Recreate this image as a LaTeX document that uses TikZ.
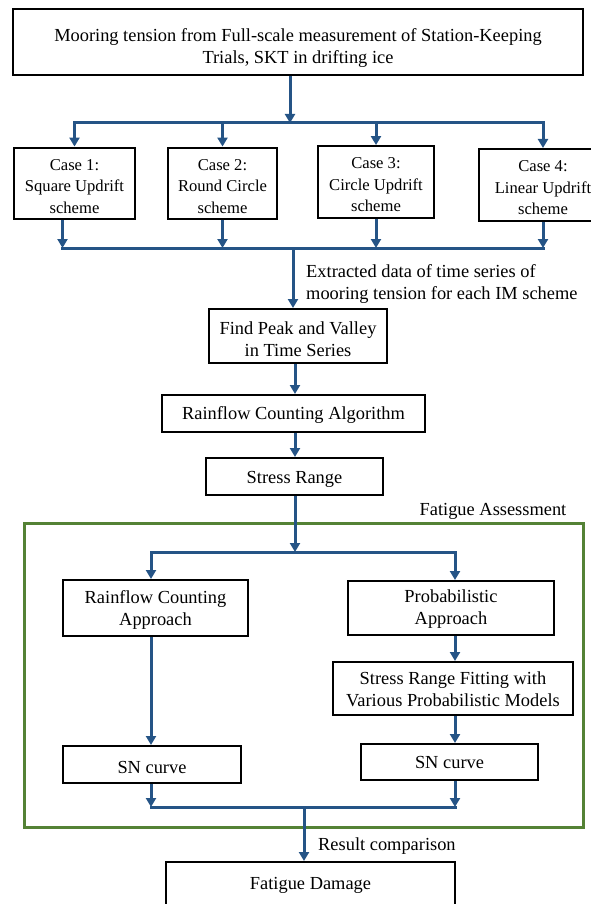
\documentclass[tikz,border=0pt]{standalone}
\usepackage{fontspec}
\setmainfont{Liberation Serif}
\usetikzlibrary{calc,arrows.meta}
\definecolor{flowblue}{RGB}{37,84,134}
\definecolor{boxgreen}{RGB}{84,130,53}
\newcommand{\twol}[3][0pt]{\begin{tabular}{c}\rule{0pt}{\dimexpr\ht\strutbox+#1\relax}#2\\#3\end{tabular}}
\newcommand{\threel}[4][0pt]{\begin{tabular}{c}\rule{0pt}{\dimexpr\ht\strutbox+#1\relax}#2\\#3\\#4\end{tabular}}
\newcommand{\onel}[2][0pt]{\rule{0pt}{\dimexpr12.6pt+#1\relax}#2}
\newcommand{\bigtxt}{\fontsize{18.4}{22}\selectfont}
\newcommand{\casetxt}{\fontsize{16.6}{21.3}\selectfont}
\tikzset{
  blk/.style={draw,line width=2pt,inner sep=0pt,font=\bigtxt},
  casebox/.style={blk,font=\casetxt,minimum height=69pt},
  flow/.style={flowblue,line width=3pt,-{Triangle[width=10pt,length=9pt]}},
  bar/.style={flowblue,line width=3pt,line cap=rect},
}

\begin{document}
\begin{tikzpicture}[x=1pt,y=-1pt]
  \useasboundingbox (0,0) rectangle (590,904);
  \node[blk,minimum width=570pt,minimum height=66pt](mt) at (298,42){\twol[12pt]{Mooring tension from Full-scale measurement of Station-Keeping}{Trials, SKT in drifting ice}};
  \node[casebox,minimum width=121pt](c1) at (74.5,183.5){\threel[8pt]{Case 1:}{Square Updrift}{scheme}};
  \node[casebox,minimum width=109pt](c2) at (222.5,183.5){\threel[8pt]{Case 2:}{Round Circle}{scheme}};
  \node[casebox,minimum width=116pt](c3) at (376,182){\threel[8pt]{Case 3:}{Circle Updrift}{scheme}};
  \node[casebox,minimum width=128pt,minimum height=72pt](c4) at (543,185){\threel[8pt]{Case 4:}{Linear Updrift}{scheme}};
  \node[font=\bigtxt,anchor=west,inner sep=0pt,align=left](ext) at (306,284){Extracted data of time series of\\mooring tension for each IM scheme};
  \node[blk,minimum width=178pt,minimum height=54pt](pk) at (298,336){\twol[10pt]{Find Peak and Valley}{in Time Series}};
  \node[blk,minimum width=263pt,minimum height=37pt](ra) at (293.5,413.5){\onel[4pt]{Rainflow Counting Algorithm}};
  \node[blk,minimum width=177pt,minimum height=37pt](sr) at (294.5,476.5){\onel[6pt]{Stress Range}};
  \node[draw=boxgreen,line width=3pt,minimum width=559pt,minimum height=304pt](fa) at (303.5,675){};
  \node[font=\bigtxt,inner sep=0pt](falab) at (493,511){Fatigue Assessment};
  \node[blk,minimum width=185pt,minimum height=56pt](rfa) at (155.5,608){\twol[4pt]{Rainflow Counting}{Approach}};
  \node[blk,minimum width=206pt,minimum height=54pt](pa) at (451,608){\twol[2pt]{Probabilistic}{Approach}};
  \node[blk,minimum width=240pt,minimum height=53pt](pf) at (453,688.5){\twol[6pt]{Stress Range Fitting with}{Various Probabilistic Models}};
  \node[blk,minimum width=178pt,minimum height=37pt](snl) at (152,764.5){\onel[6pt]{SN curve}};
  \node[blk,minimum width=177pt,minimum height=36pt](snr) at (449.5,762){\onel{SN curve}};
  \node[font=\bigtxt,anchor=west,inner sep=0pt](rcmp) at (318,846){Result comparison};
  \node[blk,minimum width=289pt,minimum height=46pt](fd) at (310.5,885){\onel{Fatigue Damage}};

  \coordinate (spl) at (290,123);
  \coordinate (mrg) at (293,248);
  \coordinate (fk) at (295,552);
  \coordinate (jn) at (304,807);
  \coordinate (lc) at (151,0);
  \coordinate (rc) at (455,0);

  \draw[flow] (mt.south -| spl) -- (spl);
  \draw[bar] (c1.north |- spl) -- (c4.north |- spl);
  \foreach \n in {c1,c2,c3,c4} \draw[flow] (\n.north |- spl) -- (\n.north);
  \draw[flow] ([xshift=-12pt]c1.south) -- ([xshift=-12pt]c1.south |- mrg);
  \foreach \n in {c2,c3,c4} \draw[flow] (\n.south) -- (\n.south |- mrg);
  \draw[bar] ([xshift=-12pt]c1.south |- mrg) -- (c4.south |- mrg);
  \draw[flow] (mrg) -- (mrg |- pk.north);
  \draw[flow] (fk |- pk.south) -- (fk |- ra.north);
  \draw[flow] (fk |- ra.south) -- (fk |- sr.north);
  \draw[flow] (fk |- sr.south) -- (fk);
  \draw[bar] (lc |- fk) -- (rc |- fk);
  \draw[flow] (lc |- fk) -- (lc |- rfa.north);
  \draw[flow] (rc |- fk) -- (rc |- pa.north);
  \draw[flow] (lc |- rfa.south) -- (lc |- snl.north);
  \draw[flow] (rc |- pa.south) -- (rc |- pf.north);
  \draw[flow] (rc |- pf.south) -- (rc |- snr.north);
  \draw[flow] (lc |- snl.south) -- (lc |- jn);
  \draw[flow] (rc |- snr.south) -- (rc |- jn);
  \draw[bar] (lc |- jn) -- (rc |- jn);
  \draw[flow] (jn) -- (jn |- fd.north);
\end{tikzpicture}
\end{document}
